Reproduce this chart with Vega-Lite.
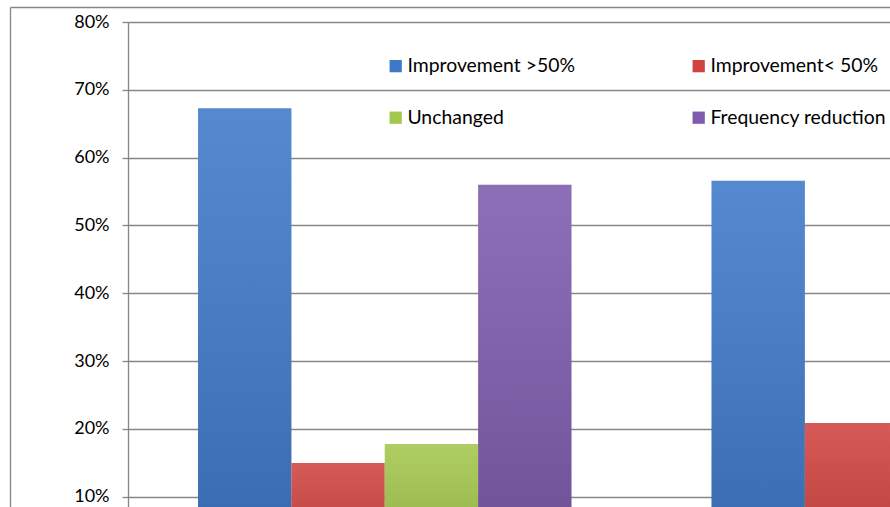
{
  "$schema": "https://vega.github.io/schema/vega-lite/v6.json",
  "width": 762,
  "height": 485,
  "autosize": {"type": "none"},
  "padding": {"left": 128, "top": 22, "right": 0, "bottom": 0},
  "background": "white",
  "config": {"view": {"stroke": null}, "font": "Lato"},
  "data": {
    "values": [
      {"group": "Group 1", "series": "Improvement >50%", "value": 0.673},
      {"group": "Group 1", "series": "Improvement< 50%", "value": 0.150},
      {"group": "Group 1", "series": "Unchanged", "value": 0.178},
      {"group": "Group 1", "series": "Frequency reduction", "value": 0.560},
      {"group": "Group 2", "series": "Improvement >50%", "value": 0.566},
      {"group": "Group 2", "series": "Improvement< 50%", "value": 0.209}
    ]
  },
  "layer": [
    {
      "layer": [
        {
          "mark": {"type": "bar", "clip": true},
          "encoding": {
            "x": {"field": "group", "type": "nominal", "axis": null,
                  "scale": {"domain": ["Group 1", "Group 2"], "range": [0, 1027], "paddingInner": 0.2727, "paddingOuter": 0.1364}},
            "xOffset": {"field": "series", "type": "nominal",
                  "scale": {"domain": ["Improvement >50%", "Improvement< 50%", "Unchanged", "Frequency reduction"], "paddingInner": 0, "paddingOuter": 0}},
            "y": {"field": "value", "type": "quantitative",
                  "scale": {"domain": [0.085, 0.8], "nice": false, "zero": false},
                  "axis": {"values": [0.1, 0.2, 0.3, 0.4, 0.5, 0.6, 0.7, 0.8], "format": ".0%", "title": null,
                           "grid": true, "gridColor": "#868686", "gridWidth": 1.3,
                           "domainColor": "#868686", "domainWidth": 1.3,
                           "tickColor": "#868686", "tickSize": 6, "tickWidth": 1.3,
                           "labelFont": "Lato", "labelFontSize": 18, "labelColor": "#000000", "labelPadding": 13}},
            "color": {"field": "series", "type": "nominal",
                  "scale": {"domain": ["Improvement >50%", "Improvement< 50%", "Unchanged", "Frequency reduction"],
                            "range": ["#3E79C9", "#D0433F", "#A3C64C", "#7D5BAD"]},
                  "legend": {"orient": "none", "legendX": 258, "legendY": 34, "columns": 2, "direction": "horizontal", "title": null,
                             "symbolType": "square", "symbolSize": 150, "symbolStrokeWidth": 0,
                             "labelFont": "Lato", "labelFontSize": 19.4, "labelColor": "#000000", "labelOffset": 2,
                             "rowPadding": 31, "columnPadding": 114, "padding": 0, "labelLimit": 400}}
          }
        },
        {
          "mark": {"type": "bar", "clip": true,
                   "color": {"gradient": "linear", "x1": 0, "y1": 0, "x2": 0, "y2": 1,
                             "stops": [{"offset": 0, "color": "rgba(255,255,255,0.12)"}, {"offset": 1, "color": "rgba(0,0,0,0.14)"}]}},
          "encoding": {
            "x": {"field": "group", "type": "nominal"},
            "xOffset": {"field": "series", "type": "nominal"},
            "y": {"field": "value", "type": "quantitative"}
          }
        }
      ]
    },
    {
      "data": {"values": [{"edge": 0}]},
      "mark": {"type": "point", "opacity": 0},
      "encoding": {
        "x": {"field": "edge", "type": "quantitative",
              "scale": {"domain": [0, 1], "range": [-118, 762]},
              "axis": {"orient": "top", "offset": 15, "domainColor": "#868686", "domainWidth": 1.3, "labels": false, "ticks": false, "grid": false, "title": null}},
        "y": {"field": "edge", "type": "quantitative",
              "scale": {"domain": [0, 1], "range": [485, -15]},
              "axis": {"orient": "left", "offset": 118, "domainColor": "#868686", "domainWidth": 1.3, "labels": false, "ticks": false, "grid": false, "title": null}}
      }
    }
  ],
  "resolve": {"scale": {"x": "independent", "y": "independent"}, "axis": {"x": "independent", "y": "independent"}}
}
